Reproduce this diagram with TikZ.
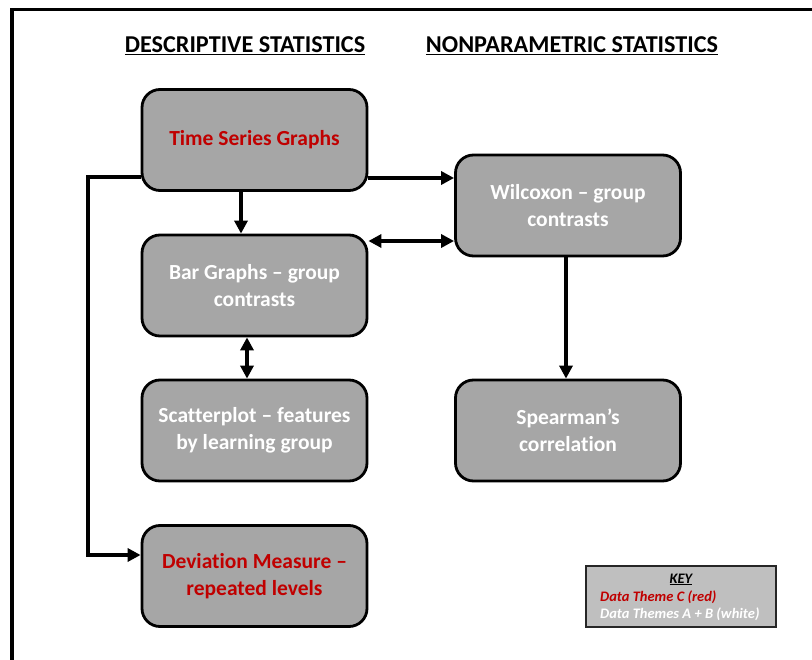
\documentclass[tikz,border=0pt]{standalone}
\usepackage{fontspec}
\setmainfont{Carlito}[Ligatures={TeX,NoCommon}]
\usetikzlibrary{arrows.meta}
\definecolor{boxgray}{HTML}{A6A6A6}
\definecolor{keygray}{HTML}{BFBFBF}
\definecolor{themered}{HTML}{C00000}
\begin{document}
\begin{tikzpicture}[x=1pt,y=-1pt,
  statbox/.style={draw=black, line width=2.8pt, fill=boxgray, rounded corners=18pt,
    minimum width=225pt, minimum height=101pt, align=center, inner sep=0pt,
    font=\bfseries\fontsize{21.5}{27}\selectfont},
  redtext/.style={text=themered},
  whitetext/.style={text=white},
  link/.style={line width=3.3pt, -{Triangle[length=13pt,width=13pt]}},
  twoway/.style={line width=3.3pt, {Triangle[length=13pt,width=13pt]}-{Triangle[length=13pt,width=13pt]}},
  heading/.style={font=\bfseries\fontsize{24.2}{28}\selectfont},
  keyfont/.style={font=\bfseries\itshape\fontsize{14.5}{17}\selectfont}
]
\useasboundingbox (0,0) rectangle (812,660);

% frame (top and left edges)
\draw[line width=3.5pt] (12,670) -- (12,9.5) -- (822,9.5);

% column headings
\node[heading] (hdesc) at (245,45.5) {\underline{DESCRIPTIVE STATISTICS}};
\node[heading] (hnon) at (572,45.5) {\underline{NONPARAMETRIC STATISTICS}};

% descriptive column
\node[statbox, redtext] (ts) at (254.5,140) {\raisebox{-2.5pt}{Time Series Graphs}};
\node[statbox, whitetext] (bar) at (254.5,285.5) {Bar Graphs -- group\\contrasts};
\node[statbox, whitetext] (scat) at (254.5,430.5) {Scatterplot -- features\\by learning group};
\node[statbox, redtext] (dev) at (254.5,576) {Deviation Measure --\\repeated levels};

% nonparametric column
\node[statbox, whitetext] (wil) at (568,205.5) {Wilcoxon -- group\\contrasts};
\node[statbox, whitetext] (spear) at (568,430.5) {Spearman's\\correlation};

% key
\node[draw=black!85, line width=1.2pt, fill=keygray, minimum width=190pt, minimum height=61pt, inner sep=0pt] (key) at (681,596.5) {};
\node[keyfont, anchor=base] (keytitle) at (681,583) {\underline{KEY}};
\node[keyfont, text=themered, anchor=base west, inner sep=0pt] (keyred) at (600,601) {Data Theme C (red)};
\node[keyfont, text=white, anchor=base west, inner sep=0pt] (keywhite) at (600,618.5) {Data Themes A + B (white)};

% guide coordinates for the connectors
\coordinate (y178) at (0,178);
\coordinate (y241) at (0,241);
\coordinate (x241) at (241,0);
\coordinate (x247) at (247,0);
\coordinate (x566) at (566,0);
\coordinate (loopA) at (88,177);
\coordinate (loopB) at (88,555);

% connectors
\draw[link] (ts.east |- y178) -- (wil.west |- y178);
\draw[link] (ts.south -| x241) -- (bar.north -| x241);
\draw[twoway] (bar.east |- y241) -- (wil.west |- y241);
\draw[twoway] (bar.south -| x247) -- (scat.north -| x247);
\draw[link] (wil.south -| x566) -- (spear.north -| x566);
\draw[link] (ts.west |- loopA) -- (loopA) -- (loopB) -- (dev.west |- loopB);
\end{tikzpicture}
\end{document}
